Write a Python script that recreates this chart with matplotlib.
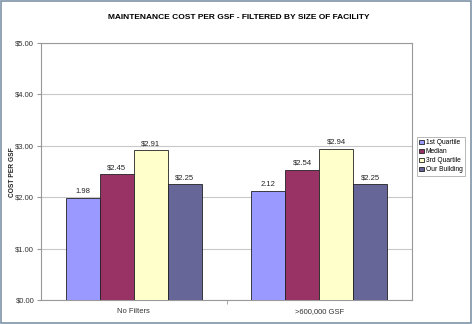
import matplotlib
matplotlib.use("Agg")
import matplotlib.pyplot as plt
from matplotlib.patches import Rectangle

plt.rcParams["font.family"] = ["Liberation Sans", "DejaVu Sans"]

# chart data
categories = ["No Filters", ">600,000 GSF"]
series_names = ["1st Quartile", "Median", "3rd Quartile", "Our Building"]
values = [
    [1.98, 2.12],
    [2.45, 2.54],
    [2.91, 2.94],
    [2.25, 2.25],
]
labels = [
    ["1.98", "2.12"],
    ["$2.45", "$2.54"],
    ["$2.91", "$2.94"],
    ["$2.25", "$2.25"],
]
colors = ["#9999FF", "#993366", "#FFFFCC", "#666699"]

fig = plt.figure(figsize=(4.72, 3.24), dpi=100)
fig.patch.set_facecolor("white")
fig.patches.append(Rectangle((0.002, 0.003), 0.995, 0.994, transform=fig.transFigure,
                             fill=False, edgecolor="#7F93A8", linewidth=1.2))

ax = fig.add_axes([0.087, 0.074, 0.786, 0.793])
width = 0.183
x = list(range(len(categories)))
for i, name in enumerate(series_names):
    pos = [xi + (i - 1.5) * width for xi in x]
    ax.bar(pos, values[i], width=width, color=colors[i], edgecolor="#222222",
           linewidth=0.6, label=name, zorder=3)
    for p, v, t in zip(pos, values[i], labels[i]):
        ax.text(p, v + 0.06, t, ha="center", va="bottom", fontsize=5.5, color="#222222")

ax.set_xlim(-0.5, 1.5)
ax.set_ylim(0, 5)
ax.set_yticks([0, 1, 2, 3, 4, 5])
ax.set_yticklabels(["$0.00", "$1.00", "$2.00", "$3.00", "$4.00", "$5.00"], fontsize=5.5, color="#333333")
ax.set_xticks(x)
ax.set_xticklabels(categories, fontsize=5.5, color="#333333")
ax.tick_params(axis="x", length=0, pad=6)
ax.set_xticks([0.5], minor=True)
ax.tick_params(axis="x", which="minor", length=3, color="#999999")
ax.tick_params(axis="y", length=3, color="#999999", pad=2)
ax.grid(axis="y", color="#C8C8C8", linewidth=0.8, zorder=0)
for s in ax.spines.values():
    s.set_color("#999999")
    s.set_linewidth(0.8)

fig.text(0.027, 0.47, "COST PER GSF", rotation=90, ha="center", va="center",
         fontsize=4.8, fontweight="bold", color="#222222")
fig.text(0.505, 0.945, "MAINTENANCE COST PER GSF - FILTERED BY SIZE OF FACILITY",
         ha="center", va="center", fontsize=6, fontweight="bold")

leg = ax.legend(loc="upper left", bbox_to_anchor=(1.012, 0.635), fontsize=4.8,
                frameon=True, fancybox=False, handlelength=0.7, handleheight=0.7,
                handletextpad=0.3, borderpad=0.35, labelspacing=0.3, borderaxespad=0)
leg.get_frame().set_edgecolor("#999999")
leg.get_frame().set_linewidth(0.6)

fig.savefig("out.png", dpi=100)
